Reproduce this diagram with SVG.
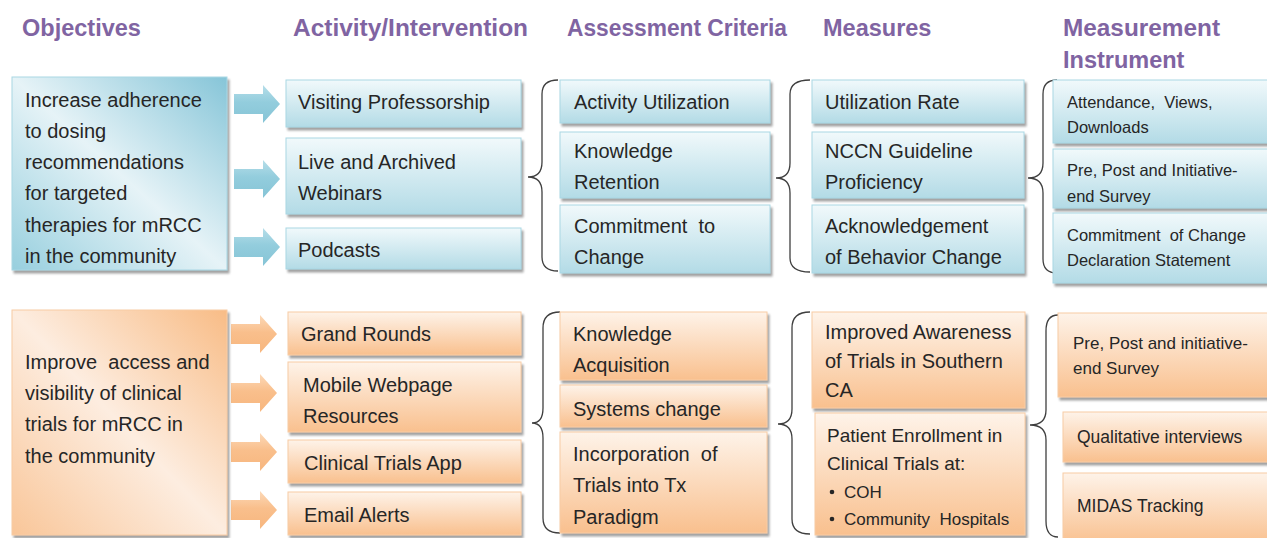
<svg xmlns="http://www.w3.org/2000/svg" width="1267" height="538" viewBox="0 0 1267 538">
<style>
.h{font-family:"Liberation Sans",Arial,sans-serif;font-weight:bold;font-size:23.5px;fill:#8064A2}
.t{font-family:"Liberation Sans",Arial,sans-serif;font-size:20px;fill:#262626}
.s{font-size:16.5px}
.m{font-size:17.5px}
.br{fill:none;stroke:#3f3f3f;stroke-width:1.3}
.bb{fill:url(#bBox);stroke:#A9D7E4;stroke-width:1;filter:url(#sh)}
.ob{fill:url(#oBox);stroke:#F8CCA4;stroke-width:1;filter:url(#sh)}
</style>
<defs>
<filter id="sh" x="-10%" y="-10%" width="125%" height="130%">
<feDropShadow dx="2" dy="3" stdDeviation="1.2" flood-color="#6f6f6f" flood-opacity="0.65"/>
</filter>
<linearGradient id="bBox" x1="0" y1="0" x2="0" y2="1">
<stop offset="0" stop-color="#F1F9FB"/><stop offset="1" stop-color="#B3DBE6"/>
</linearGradient>
<linearGradient id="oBox" x1="0" y1="0" x2="0" y2="1">
<stop offset="0" stop-color="#FEF3E9"/><stop offset="1" stop-color="#F9C08E"/>
</linearGradient>
<linearGradient id="bObj" x1="1" y1="0" x2="0" y2="1">
<stop offset="0" stop-color="#86C5D8"/><stop offset="0.5" stop-color="#E6F3F7"/><stop offset="1" stop-color="#97CFDE"/>
</linearGradient>
<linearGradient id="oObj" x1="1" y1="0" x2="0" y2="1">
<stop offset="0" stop-color="#F8BC86"/><stop offset="0.5" stop-color="#FDEDE0"/><stop offset="1" stop-color="#F9C699"/>
</linearGradient>
<linearGradient id="bArr" x1="0" y1="0" x2="0" y2="1">
<stop offset="0" stop-color="#B6DEE9"/><stop offset="0.45" stop-color="#93CDDD"/><stop offset="1" stop-color="#86C4D6"/>
</linearGradient>
<linearGradient id="oArr" x1="0" y1="0" x2="0" y2="1">
<stop offset="0" stop-color="#FCD9B8"/><stop offset="0.45" stop-color="#F9BF8C"/><stop offset="1" stop-color="#F7B67E"/>
</linearGradient>
<path id="arr" d="M0,-10 H29 V-19 L46,0 L29,19 V10 H0 Z"/>
</defs>

<g id="headers">
<text class="h" x="22" y="36">Objectives</text>
<text class="h" x="293" y="36" textLength="235" lengthAdjust="spacingAndGlyphs">Activity/Intervention</text>
<text class="h" x="567" y="36" textLength="220" lengthAdjust="spacingAndGlyphs">Assessment Criteria</text>
<text class="h" x="823" y="36">Measures</text>
<text class="h" x="1063" y="36" textLength="157" lengthAdjust="spacingAndGlyphs">Measurement</text>
<text class="h" x="1063" y="68">Instrument</text>
</g>

<g id="connectors">
<use href="#arr" x="234" y="104" fill="url(#bArr)"/>
<use href="#arr" x="234" y="179" fill="url(#bArr)"/>
<use href="#arr" x="234" y="247" fill="url(#bArr)"/>
<use href="#arr" x="231" y="334" fill="url(#oArr)"/>
<use href="#arr" x="231" y="393" fill="url(#oArr)"/>
<use href="#arr" x="231" y="452" fill="url(#oArr)"/>
<use href="#arr" x="231" y="510" fill="url(#oArr)"/>
<path class="br" d="M558,80 Q542,80 542,94 V162 Q542,177 528,177 Q542,177 542,192 V257 Q542,271 558,271"/>
<path class="br" d="M810,80 Q790,80 790,94 V163 Q790,178 776,178 Q790,178 790,193 V258 Q790,272 810,272"/>
<path class="br" d="M1057,80 Q1043,80 1043,94 V163 Q1043,178 1028,178 Q1043,178 1043,193 V259 Q1043,273 1057,273"/>
<path class="br" d="M560,312 Q543,312 543,328 V408 Q543,423 532,423 Q543,423 543,438 V518 Q543,533 560,533"/>
<path class="br" d="M810,312 Q792,312 792,328 V409 Q792,424 778,424 Q792,424 792,439 V519 Q792,534 810,534"/>
<path class="br" d="M1058,315 Q1046,315 1046,331 V410 Q1046,425 1030,425 Q1046,425 1046,440 V521 Q1046,537 1058,537"/>
</g>

<g id="obj1"><rect x="12" y="77" width="215" height="193" fill="url(#bObj)" stroke="#A9D7E4" filter="url(#sh)"/>
<text class="t" x="25"><tspan x="25" y="107">Increase adherence</tspan><tspan x="25" y="138">to dosing</tspan><tspan x="25" y="169">recommendations</tspan><tspan x="25" y="200">for targeted</tspan><tspan x="25" y="232">therapies for mRCC</tspan><tspan x="25" y="263">in the community</tspan></text></g>

<g id="act1"><rect class="bb" x="286" y="80" width="235" height="47"/><text class="t" x="298" y="109">Visiting Professorship</text></g>
<g id="act2"><rect class="bb" x="286" y="138" width="235" height="76"/><text class="t"><tspan x="298" y="169">Live and Archived</tspan><tspan x="298" y="200">Webinars</tspan></text></g>
<g id="act3"><rect class="bb" x="286" y="228" width="235" height="41"/><text class="t" x="298" y="257">Podcasts</text></g>

<g id="asm1"><rect class="bb" x="560" y="80" width="210" height="43"/><text class="t" x="574" y="109">Activity Utilization</text></g>
<g id="asm2"><rect class="bb" x="560" y="132" width="210" height="66"/><text class="t"><tspan x="574" y="158">Knowledge</tspan><tspan x="574" y="189">Retention</tspan></text></g>
<g id="asm3"><rect class="bb" x="560" y="205" width="210" height="68"/><text class="t" xml:space="preserve"><tspan x="574" y="233">Commitment  to</tspan><tspan x="574" y="264">Change</tspan></text></g>

<g id="mea1"><rect class="bb" x="812" y="80" width="212" height="43"/><text class="t" x="825" y="109">Utilization Rate</text></g>
<g id="mea2"><rect class="bb" x="812" y="132" width="212" height="66"/><text class="t"><tspan x="825" y="158">NCCN Guideline</tspan><tspan x="825" y="189">Proficiency</tspan></text></g>
<g id="mea3"><rect class="bb" x="812" y="205" width="212" height="68"/><text class="t"><tspan x="825" y="233">Acknowledgement</tspan><tspan x="825" y="264">of Behavior Change</tspan></text></g>

<g id="ins1"><rect class="bb" x="1053" y="80" width="216" height="63"/><text class="t s" xml:space="preserve"><tspan x="1067" y="108">Attendance,  Views,</tspan><tspan x="1067" y="133">Downloads</tspan></text></g>
<g id="ins2"><rect class="bb" x="1053" y="149" width="216" height="59"/><text class="t s"><tspan x="1067" y="176">Pre, Post and Initiative-</tspan><tspan x="1067" y="202">end Survey</tspan></text></g>
<g id="ins3"><rect class="bb" x="1053" y="213" width="216" height="70"/><text class="t s" xml:space="preserve"><tspan x="1067" y="241">Commitment  of Change</tspan><tspan x="1067" y="266">Declaration Statement</tspan></text></g>

<g id="obj2"><rect x="12" y="310" width="215" height="225" fill="url(#oObj)" stroke="#F8CCA4" filter="url(#sh)"/>
<text class="t" xml:space="preserve"><tspan x="25" y="369">Improve  access and</tspan><tspan x="25" y="400">visibility of clinical</tspan><tspan x="25" y="431">trials for mRCC in</tspan><tspan x="25" y="463">the community</tspan></text></g>

<g id="act4"><rect class="ob" x="288" y="312" width="233" height="43"/><text class="t" x="301" y="341">Grand Rounds</text></g>
<g id="act5"><rect class="ob" x="288" y="362" width="233" height="70"/><text class="t"><tspan x="303" y="392">Mobile Webpage</tspan><tspan x="303" y="423">Resources</tspan></text></g>
<g id="act6"><rect class="ob" x="288" y="440" width="233" height="43"/><text class="t" x="304" y="470">Clinical Trials App</text></g>
<g id="act7"><rect class="ob" x="288" y="492" width="233" height="43"/><text class="t" x="304" y="522">Email Alerts</text></g>

<g id="asm4"><rect class="ob" x="560" y="312" width="207" height="68"/><text class="t"><tspan x="573" y="341">Knowledge</tspan><tspan x="573" y="372">Acquisition</tspan></text></g>
<g id="asm5"><rect class="ob" x="560" y="385" width="207" height="42"/><text class="t" x="573" y="416">Systems change</text></g>
<g id="asm6"><rect class="ob" x="560" y="432" width="207" height="101"/><text class="t" xml:space="preserve"><tspan x="573" y="461">Incorporation  of</tspan><tspan x="573" y="492">Trials into Tx</tspan><tspan x="573" y="524">Paradigm</tspan></text></g>

<g id="mea4"><rect class="ob" x="812" y="312" width="213" height="96"/><text class="t"><tspan x="825" y="339">Improved Awareness</tspan><tspan x="825" y="368">of Trials in Southern</tspan><tspan x="825" y="397">CA</tspan></text></g>
<g id="mea5"><rect class="ob" x="815" y="413" width="210" height="122"/><text class="t" style="font-size:19px"><tspan x="827" y="442">Patient Enrollment in</tspan><tspan x="827" y="470">Clinical Trials at:</tspan></text>
<circle cx="832" cy="492" r="2.3" fill="#262626"/><circle cx="832" cy="519" r="2.3" fill="#262626"/>
<text class="t" style="font-size:17px" xml:space="preserve"><tspan x="844" y="498">COH</tspan><tspan x="844" y="525">Community  Hospitals</tspan></text></g>

<g id="ins4"><rect class="ob" x="1058" y="313" width="211" height="84"/><text class="t m" style="font-size:17px"><tspan x="1073" y="349">Pre, Post and initiative-</tspan><tspan x="1073" y="374">end Survey</tspan></text></g>
<g id="ins5"><rect class="ob" x="1063" y="412" width="206" height="50"/><text class="t m" x="1077" y="443">Qualitative interviews</text></g>
<g id="ins6"><rect class="ob" x="1063" y="473" width="206" height="72"/><text class="t m" x="1077" y="512">MIDAS Tracking</text></g>
</svg>
